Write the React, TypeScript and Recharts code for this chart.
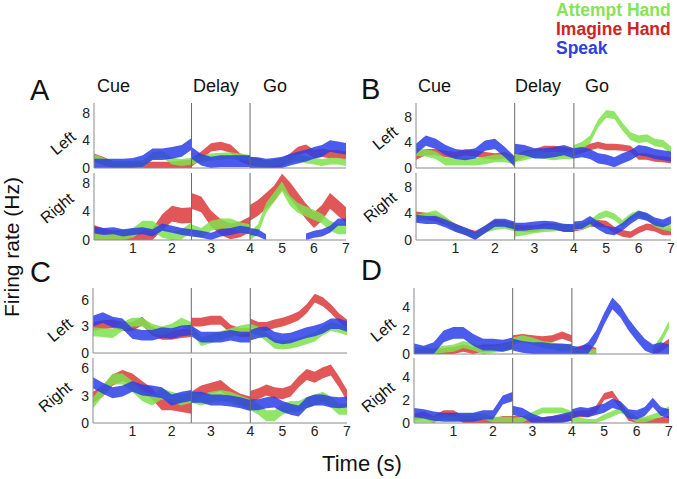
import React from 'react';
import { ComposedChart, Area, XAxis, YAxis, ReferenceLine } from 'recharts';

const FONT = '"Liberation Sans", Arial, Helvetica, sans-serif';

// time grid of each epoch (s)
const CUE_TIMES = [0, 0.25, 0.5, 0.75, 1, 1.25, 1.5, 1.75, 2, 2.25, 2.5];
const DELAY_TIMES = [2.5, 2.75, 3, 3.25, 3.5, 3.75, 4];
const GO_TIMES = [4, 4.25, 4.5, 4.75, 5, 5.25, 5.5, 5.75, 6, 6.25, 6.5, 6.75, 7];
const X_TICKS = [1, 2, 3, 4, 5, 6, 7];
const EPOCH_BOUNDS = [2.5, 4];
const EPOCH_LABELS = ['Cue', 'Delay', 'Go'];
const GO_COMPRESSION = 0.82;

const SERIES_NAMES = ['Attempt Hand', 'Imagine Hand', 'Speak'];
const LEGEND_COLORS = ['#84e457', '#d02424', '#2e3fdc'];
const FILL = { g: '#7ee04c', r: '#dc3838', b: '#2b3ee8' };

// mean firing rate (Hz): cue (11) | delay (7) | go (13)
const aLeftG = [1.5,1.0,0.5,0.5,0.5,0.6,1.8,2.0,1.0,0.8,1.0, 1.0,1.3,1.6,1.7,1.8,1.6,1.4, 0.8,0.7,0.5,0.8,1.0,1.2,1.5,1.2,1.0,0.8,1.0,1.0,0.8];
const aLeftR = [1.5,1.0,0.3,0.3,0.3,0.3,0.3,0.3,0.3,0.5,0.6, 0.8,1.8,3.0,3.2,2.8,1.5,1.0, 1.0,0.8,0.5,0.5,0.8,1.5,2.5,2.8,2.0,2.2,2.0,2.0,1.8];
const aLeftB = [0.5,0.5,0.5,0.5,0.6,1.0,2.0,2.0,2.2,2.5,3.5, 2.2,1.2,0.8,1.0,1.0,1.0,1.0, 0.8,0.7,0.5,0.6,0.8,1.2,1.5,1.8,2.2,2.5,3.2,3.0,2.8];
const aRightG = [0.3,0.2,0.3,0.6,1.0,2.0,2.0,1.0,0.5,0.8,1.8, 1.5,1.0,2.0,2.3,2.3,1.8,1.5, 0.5,1.5,4.5,6.0,7.5,5.5,4.5,4.0,3.5,3.0,2.0,1.5,1.5];
const aRightR = [1.0,0.5,0.2,0.3,0.3,0.3,0.5,2.5,3.7,3.4,3.5, 5.5,5.0,3.0,1.8,1.2,1.5,2.2, 3.8,4.5,5.5,6.5,8.2,7.0,5.5,4.0,2.8,3.8,5.5,4.5,3.5];
const aRightB = [1.4,1.2,1.3,1.0,1.2,1.3,1.0,1.8,1.5,1.2,1.0, 1.0,0.8,0.5,1.0,1.2,1.5,1.3, 1.2,1.0,0.3,null,null,null,null,0.4,0.8,1.0,1.5,2.5,2.5];
const bLeftG = [2.5,2.4,2.0,1.0,1.0,1.0,1.0,1.2,1.5,1.5,1.2, 1.5,1.8,2.2,2.0,1.8,2.0,2.0, 3.0,3.5,4.5,7.0,8.5,8.3,6.5,5.0,4.5,4.7,4.0,3.8,2.8];
const bLeftR = [1.8,2.5,2.5,2.2,2.0,2.5,2.3,2.0,1.8,2.0,1.3, 1.5,2.2,2.5,3.0,3.0,2.8,2.5, 2.5,2.8,3.3,3.6,3.3,3.3,3.2,3.0,1.8,1.8,1.5,1.4,1.2];
const bLeftB = [3.0,4.3,3.8,2.8,2.2,2.0,2.3,3.5,3.8,2.5,1.0, 3.0,2.8,2.3,2.3,2.5,2.8,2.3, 2.3,2.5,2.2,1.5,1.3,0.9,1.5,2.0,2.8,2.6,2.2,2.0,1.8];
const bRightG = [3.3,3.6,4.0,3.0,1.8,1.3,0.6,1.6,2.0,2.2,1.8, 1.0,1.2,1.5,1.7,1.8,2.0,1.8, 2.0,2.0,2.5,3.5,4.0,3.5,2.5,3.5,4.0,3.5,2.5,2.0,1.8];
const bRightR = [3.8,3.6,3.3,2.8,2.0,1.3,0.9,1.6,2.5,2.4,2.0, 1.8,1.7,1.7,2.0,2.0,1.8,1.7, 1.8,2.0,2.5,2.5,2.4,1.5,1.0,0.8,1.5,2.0,1.8,1.2,1.2];
const bRightB = [3.2,3.0,3.0,2.5,1.8,1.3,0.6,1.6,2.6,2.6,2.2, 2.0,2.0,2.2,2.3,2.2,1.8,1.8, 2.2,2.3,3.0,2.2,1.5,1.3,2.0,3.0,3.8,3.5,2.8,2.5,3.0];
const cLeftG = [2.4,2.3,2.2,3.0,3.5,3.5,2.8,2.5,2.8,3.5,3.0, 2.7,1.3,1.6,2.0,2.3,2.6,2.8, 2.8,2.5,1.8,1.0,0.9,1.0,1.2,1.5,1.8,2.5,3.0,2.8,2.5];
const cLeftR = [3.0,3.2,3.3,3.0,3.0,3.6,2.5,2.0,2.0,2.2,2.3, 3.5,3.5,3.7,3.7,2.7,2.3,2.3, 3.4,3.0,3.0,3.3,3.5,3.8,4.2,5.0,6.2,5.8,5.0,4.0,3.3];
const cLeftB = [3.6,4.0,3.5,3.3,2.2,2.0,2.0,2.3,2.2,2.5,2.6, 2.5,1.8,1.8,1.8,2.0,1.8,1.8, 2.0,2.3,2.4,1.8,1.6,1.7,2.0,2.3,2.5,2.8,3.3,3.3,3.0];
const cRightG = [2.2,3.5,4.8,4.8,4.0,3.0,2.5,3.2,2.8,2.5,2.8, 2.8,2.5,2.8,3.0,2.8,2.4,2.0, 2.0,1.5,0.8,0.8,1.5,1.8,1.8,2.2,2.5,2.8,2.3,1.5,1.5];
const cRightR = [2.8,3.5,4.7,5.2,4.8,4.0,3.2,2.0,2.0,1.8,1.6, 2.8,3.5,3.8,4.1,3.2,2.6,2.3, 2.9,3.2,3.6,3.3,3.2,3.5,4.5,5.3,5.0,5.5,5.8,4.5,3.0];
const cRightB = [4.4,3.8,3.3,3.5,4.0,3.6,3.5,3.3,2.5,2.8,3.0, 2.8,2.8,2.5,2.5,2.4,2.2,1.9, 2.0,2.0,2.2,2.3,1.8,1.5,1.3,2.2,2.5,2.5,2.3,2.2,2.3];
const dLeftG = [0.2,0.3,0.2,0.4,0.5,0.8,0.6,0.3,0.4,0.5,0.7, 1.1,1.3,1.1,0.8,0.7,0.5,0.6, 0.2,0.1,0.1,0.1,null,null,null,null,null,null,0.2,1.2,2.5];
const dLeftR = [0.0,0.1,0.1,0.2,0.3,0.5,0.3,0.5,0.5,0.6,0.8, 1.3,1.4,1.3,1.2,1.3,1.6,1.3, 0.1,0.4,0.5,0.2,null,null,null,null,null,null,0.1,0.5,1.0];
const dLeftB = [0.4,0.2,0.5,1.5,1.8,1.8,1.2,0.8,0.8,0.7,0.9, 0.8,0.6,0.5,0.5,0.4,0.4,0.3, 0.2,0.1,0.5,1.5,3.0,4.3,3.6,2.5,1.6,0.8,0.3,0.5,0.3];
const dRightG = [0.3,0.3,0.3,0.5,0.4,0.5,0.6,0.6,0.3,0.3,0.3, 0.2,0.3,0.7,1.1,1.1,1.1,0.8, 0.3,0.2,0.1,0.1,0.5,0.8,1.1,0.8,0.3,0.3,0.5,0.8,1.2];
const dRightR = [0.5,0.7,0.3,0.8,0.8,0.3,0.3,0.1,0.1,0.3,0.3, 0.3,0.3,0.2,0.2,0.3,0.4,0.5, 0.7,0.8,0.8,1.2,2.3,2.5,1.5,0.5,0.1,0.1,0.1,0.2,0.3];
const dRightB = [0.9,0.8,0.6,0.5,0.5,0.5,0.5,0.7,0.7,2.0,2.3, 1.1,0.9,0.4,0.1,0.2,0.4,0.6, 0.8,1.0,0.9,1.1,1.3,1.7,1.5,0.8,0.7,1.0,1.8,1.0,0.8];

// half-width of the shaded error band (Hz) per series: [green, red, blue]
const aLeftHW = [0.5, 0.6, 0.85];
const aRightHW = [0.7, 1.1, 0.5];
const bLeftHW = [0.6, 0.5, 0.8];
const bRightHW = [0.5, 0.5, 0.6];
const cLeftHW = [0.5, 0.5, 0.6];
const cRightHW = [0.6, 0.6, 0.6];
const dLeftHW = [0.3, 0.3, 0.5];
const dRightHW = [0.25, 0.3, 0.4];

const warp = (t: number) => (t <= 4 ? t : 4 + (t - 4) * GO_COMPRESSION);
const SEGMENTS = [CUE_TIMES, DELAY_TIMES, GO_TIMES];
const KEYS = ['r', 'g', 'b'];

function buildRows(g: (number | null)[], r: (number | null)[], b: (number | null)[], hw: number[]) {
  const series: any = { g: [g, hw[0]], r: [r, hw[1]], b: [b, hw[2]] };
  const rows: any[] = [];
  let idx = 0;
  SEGMENTS.forEach((times, s) => {
    times.forEach((t) => {
      const row: any = { u: warp(t) };
      KEYS.forEach((k) => {
        const [arr, h] = series[k];
        const m = arr[idx];
        row[k + s] = m == null ? null : [Math.max(0, m - h), m + h];
      });
      rows.push(row);
      idx++;
    });
  });
  return rows;
}

const tickLabel = (v: number) => {
  const t = X_TICKS.find((x) => Math.abs(warp(x) - v) < 1e-6);
  return t == null ? '' : String(t);
};

function Subplot(props: any) {
  const { left, right, top, zero, yMax, yTicks, rows, showX } = props;
  const YW = 30;
  const MT = 8;
  const MR = 4;
  const XH = showX ? 20 : 8;
  const w = right - left + YW + MR;
  const h = zero - top + MT + XH;
  return (
    <div style={{ position: 'absolute', left: left - YW, top: top - MT }}>
      <ComposedChart
        width={w}
        height={h}
        data={rows}
        margin={{ top: MT, right: MR, bottom: 0, left: 0 }}
        style={{ overflow: 'visible' }}
      >
        <XAxis
          type="number"
          dataKey="u"
          domain={[0, warp(7)]}
          ticks={X_TICKS.map(warp)}
          tickFormatter={tickLabel}
          height={XH}
          tick={showX ? { fontSize: 14, fill: '#222', fontFamily: FONT } : false}
          tickLine={false}
          tickSize={0}
          tickMargin={3}
          axisLine={{ stroke: '#8a8a8a' }}
          interval={0}
        />
        <YAxis
          type="number"
          domain={[0, yMax]}
          ticks={yTicks}
          width={YW}
          tick={{ fontSize: 14, fill: '#222', fontFamily: FONT }}
          tickLine={false}
          tickSize={0}
          tickMargin={4}
          axisLine={{ stroke: '#8a8a8a' }}
          allowDataOverflow
          interval={0}
        />
        {[0, 1, 2].flatMap((s) =>
          KEYS.map((k) => (
            <Area
              key={k + s}
              dataKey={k + s}
              type="linear"
              stroke="none"
              fill={(FILL as any)[k]}
              fillOpacity={0.85}
              connectNulls={false}
              dot={false}
              activeDot={false}
              isAnimationActive={false}
            />
          ))
        )}
        {EPOCH_BOUNDS.map((x) => (
          <ReferenceLine key={x} x={warp(x)} stroke="#6a6a6a" strokeWidth={1} />
        ))}
      </ComposedChart>
    </div>
  );
}

const PANELS = [
  { left: 94, right: 346, top: 103, zero: 168, yMax: 9.45, yTicks: [0, 4, 8], rows: buildRows(aLeftG, aLeftR, aLeftB, aLeftHW), showX: false },
  { left: 94, right: 346, top: 173, zero: 240, yMax: 9.4, yTicks: [0, 4, 8], rows: buildRows(aRightG, aRightR, aRightB, aRightHW), showX: true },
  { left: 416, right: 671, top: 103, zero: 168, yMax: 10.2, yTicks: [0, 4, 8], rows: buildRows(bLeftG, bLeftR, bLeftB, bLeftHW), showX: false },
  { left: 416, right: 671, top: 173, zero: 240, yMax: 10.1, yTicks: [0, 4, 8], rows: buildRows(bRightG, bRightR, bRightB, bRightHW), showX: true },
  { left: 93, right: 347, top: 288, zero: 353, yMax: 7.35, yTicks: [0, 3, 6], rows: buildRows(cLeftG, cLeftR, cLeftB, cLeftHW), showX: false },
  { left: 93, right: 347, top: 358, zero: 423, yMax: 7.1, yTicks: [0, 3, 6], rows: buildRows(cRightG, cRightR, cRightB, cRightHW), showX: true },
  { left: 414, right: 669, top: 288, zero: 354, yMax: 5.6, yTicks: [0, 2, 4], rows: buildRows(dLeftG, dLeftR, dLeftB, dLeftHW), showX: false },
  { left: 414, right: 669, top: 358, zero: 423, yMax: 5.65, yTicks: [0, 2, 4], rows: buildRows(dRightG, dRightR, dRightB, dRightHW), showX: true },
];

const SIDE_LABELS = [
  { text: 'Left', x: 63, y: 143 },
  { text: 'Right', x: 57, y: 208 },
  { text: 'Left', x: 385, y: 138 },
  { text: 'Right', x: 380, y: 207 },
  { text: 'Left', x: 60, y: 330 },
  { text: 'Right', x: 55, y: 397 },
  { text: 'Left', x: 383, y: 330 },
  { text: 'Right', x: 378, y: 397 },
];

const PANEL_LETTERS = [
  { text: 'A', x: 30, y: 100 },
  { text: 'B', x: 361, y: 99 },
  { text: 'C', x: 30, y: 282 },
  { text: 'D', x: 361, y: 280 },
];

const EPOCH_TEXT = [
  { x: [97, 193, 263], y: 92 },
  { x: [418, 515, 585], y: 92 },
];

export default function App() {
  return (
    <div style={{ position: 'absolute', left: 0, top: 0, width: 677, height: 479, background: '#fff', overflow: 'hidden', fontFamily: FONT }}>
      {PANELS.map((p, i) => (
        <Subplot key={i} {...p} />
      ))}
      <svg width={677} height={479} style={{ position: 'absolute', left: 0, top: 0, pointerEvents: 'none' }} fontFamily={FONT}>
        {SERIES_NAMES.map((n, i) => (
          <text key={n} x={556} y={16 + i * 19} fill={LEGEND_COLORS[i]} fontSize={17.5} fontWeight="bold">
            {n}
          </text>
        ))}
        {PANEL_LETTERS.map((l) => (
          <text key={l.text} x={l.x} y={l.y} fontSize={29} fill="#111">
            {l.text}
          </text>
        ))}
        {EPOCH_TEXT.flatMap((e, j) =>
          e.x.map((x, i) => (
            <text key={j + '-' + i} x={x} y={e.y} fontSize={18} fill="#111">
              {EPOCH_LABELS[i]}
            </text>
          ))
        )}
        {SIDE_LABELS.map((s, i) => (
          <text key={i} x={s.x} y={s.y} dy="0.35em" fontSize={16} fill="#111" textAnchor="middle" transform={`rotate(-40 ${s.x} ${s.y})`}>
            {s.text}
          </text>
        ))}
        <text x={19} y={247} fontSize={21} fill="#111" textAnchor="middle" transform="rotate(-90 19 247)">
          Firing rate (Hz)
        </text>
        <text x={362} y={471} fontSize={22} fill="#111" textAnchor="middle">
          Time (s)
        </text>
      </svg>
    </div>
  );
}
